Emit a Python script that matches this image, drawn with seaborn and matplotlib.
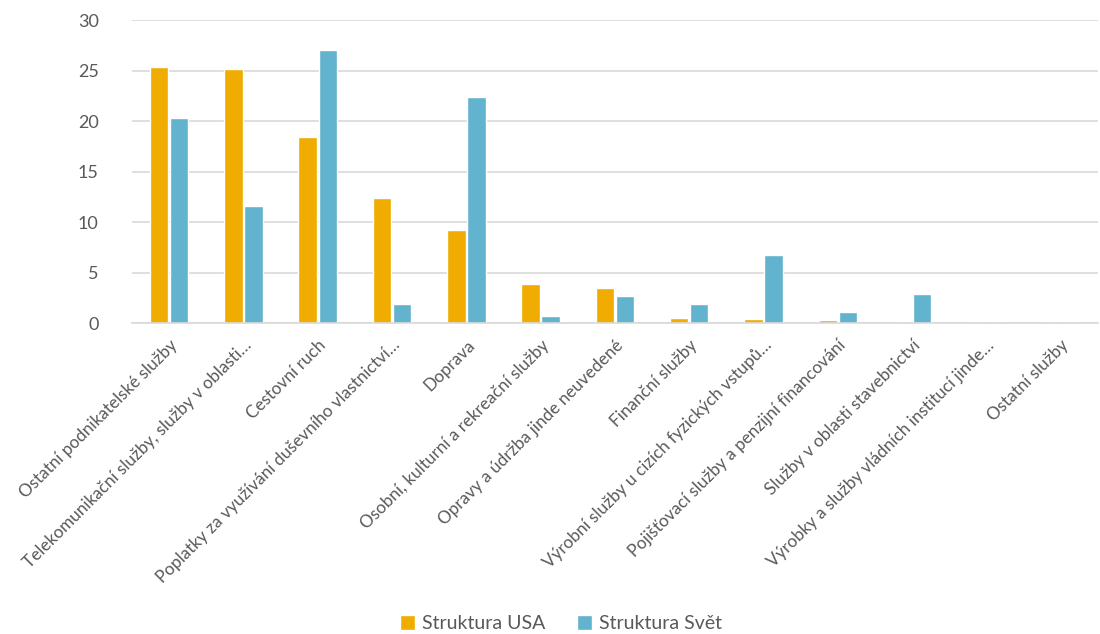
import matplotlib
matplotlib.use("Agg")
import matplotlib.pyplot as plt
import seaborn as sns
import pandas as pd
from matplotlib.patches import Patch

categories = [
    "Ostatní podnikatelské služby",
    "Telekomunikační služby, služby v oblasti…",
    "Cestovní ruch",
    "Poplatky za využívání duševního vlastnictví…",
    "Doprava",
    "Osobní, kulturní a rekreační služby",
    "Opravy a údržba jinde neuvedené",
    "Finanční služby",
    "Výrobní služby u cizích fyzických vstupů…",
    "Pojišťovací služby a penzijní financování",
    "Služby v oblasti stavebnictví",
    "Výrobky a služby vládních institucí jinde…",
    "Ostatní služby",
]
usa = [25.4, 25.2, 18.4, 12.4, 9.2, 3.9, 3.5, 0.5, 0.37, 0.27, 0.0, 0.0, 0.0]
svet = [20.3, 11.6, 27.1, 1.9, 22.4, 0.7, 2.7, 1.9, 6.7, 1.1, 2.9, 0.05, 0.0]
series_names = ["Struktura USA", "Struktura Svět"]
colors = ["#F0AC00", "#62B3CE"]
yticks = [0, 5, 10, 15, 20, 25, 30]

df = pd.DataFrame({
    "kat": categories * 2,
    "hodnota": usa + svet,
    "serie": [series_names[0]] * len(categories) + [series_names[1]] * len(categories),
})

sns.set_theme(style="white")
plt.rcParams["font.family"] = ["Lato", "DejaVu Sans"]

fig = plt.figure(figsize=(11, 6.34), dpi=100)
ax = fig.add_axes([0.12, 0.4905, 0.878, 0.4775])

sns.barplot(data=df, x="kat", y="hodnota", hue="serie", palette=colors,
            width=0.54, gap=0.08, ax=ax, legend=False, saturation=1)

ax.set_ylim(0, 30)
ax.set_yticks(yticks)
ax.set_xlim(-0.5, len(categories) - 0.5)
ax.yaxis.grid(True, color="#D9D9D9", linewidth=1.2)
ax.set_axisbelow(True)
for s in ["top", "right", "left"]:
    ax.spines[s].set_visible(False)
ax.spines["bottom"].set_color("#D9D9D9")
ax.spines["bottom"].set_linewidth(1.2)
ax.set_xlabel("")
ax.set_ylabel("")
ax.tick_params(axis="both", length=0, colors="#595959")
ax.tick_params(axis="y", labelsize=13, pad=24)
ax.set_xticks(range(len(categories)))
ax.set_xticklabels(categories, rotation=45, ha="right", rotation_mode="anchor",
                   fontsize=12.3, color="#595959")
ax.tick_params(axis="x", pad=10)

handles = [Patch(facecolor=c, label=n) for c, n in zip(colors, series_names)]
fig.legend(handles=handles, loc="lower center", bbox_to_anchor=(0.51, -0.025), ncol=2,
           frameon=False, fontsize=14, handlelength=0.8, handleheight=0.8,
           handletextpad=0.35, columnspacing=1.6, labelcolor="#595959")

fig.savefig("out.png", dpi=100)
